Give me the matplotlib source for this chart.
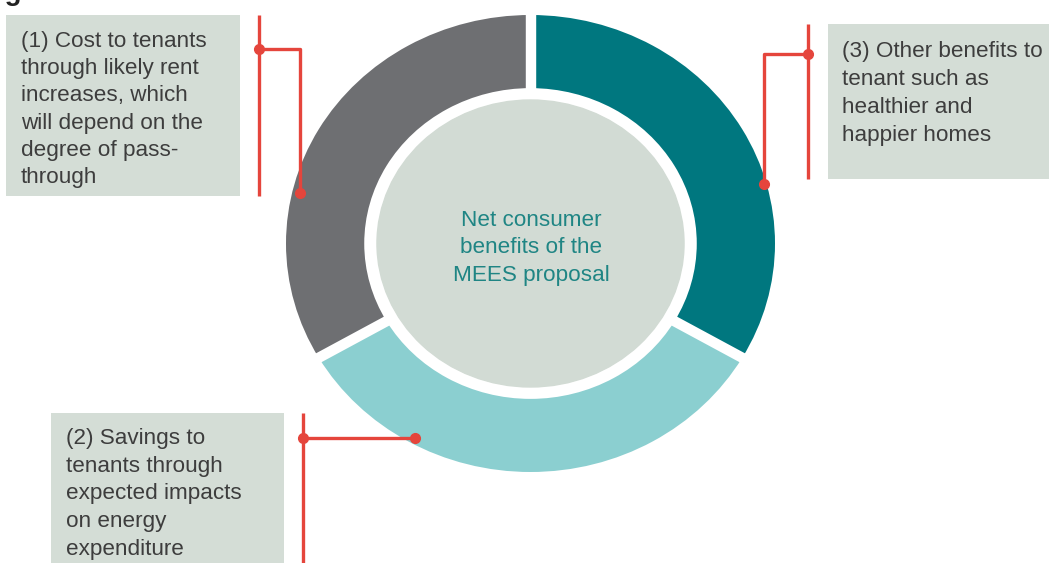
import numpy as np
import matplotlib.pyplot as plt
from matplotlib.patches import Rectangle, Circle

plt.rcParams['font.family'] = ['Liberation Sans', 'DejaVu Sans']

W, H = 1049, 563

# three equal components of the net consumer benefit
shares = [1, 1, 1]
seg_colors = ['#00777f', '#8bcfd0', '#6e6f72']
centre_lines = ['Net consumer', 'benefits of the', 'MEES proposal']

box3_lines = ['(3) Other benefits to', 'tenant such as', 'healthier and', 'happier homes']
box2_lines = ['(2) Savings to', 'tenants through', 'expected impacts', 'on energy', 'expenditure']
box1_lines = ['(1) Cost to tenants', 'through likely rent', 'increases, which',
              'will depend on the', 'degree of pass-', 'through']

# angle (deg) and radius on the ring where each callout touches it
anchor_angle = [15.2, 240.9, 166.9]
anchor_radius = [0.99, 0.975, 0.97]

red = '#e5453c'
box_fc = '#d4ddd6'
text_c = '#3d3d3d'
fs = 16.2

fig = plt.figure(figsize=(W / 100, H / 100), dpi=100)
ax = fig.add_axes([0, 0, 1, 1])
ax.set_xlim(0, W)
ax.set_ylim(H, 0)
ax.axis('off')

# donut lives in its own axes, stretched a little wider than tall
dl, dt, dr, db = 286, 15, 775, 472
dax = fig.add_axes([dl / W, (H - db) / H, (dr - dl) / W, (db - dt) / H])
dax.pie(shares, colors=seg_colors, startangle=90, counterclock=False, radius=1,
        wedgeprops=dict(width=0.32, linewidth=0))
dax.set_aspect('auto')
dax.set_xlim(-1, 1)
dax.set_ylim(-1, 1)
dax.axis('off')

# annotation layer sits on top of the donut
dax.set_zorder(1)
ax.set_zorder(2)

# white gaps between the segments
bounds = 90 - 360 * np.cumsum([0] + shares[:-1]) / sum(shares)
for a in np.radians(bounds):
    dax.plot([0.66 * np.cos(a), 1.05 * np.cos(a)], [0.66 * np.sin(a), 1.05 * np.sin(a)],
             color='white', lw=7.5, solid_capstyle='butt', zorder=3)

dax.add_patch(Circle((0, 0), 0.628, color='#d2dbd4', zorder=4))

# centre caption, one line at a time
for i, s in enumerate(centre_lines):
    ax.text(531, 226 + i * 27.3, s, ha='center', va='baseline', fontsize=fs,
            color='#1f8584', zorder=5)


def ring_point(k):
    a = np.radians(anchor_angle[k])
    r = anchor_radius[k]
    disp = dax.transData.transform((r * np.cos(a), r * np.sin(a)))
    return ax.transData.inverted().transform(disp)


def text_box(x0, y0, x1, y1, lines, tx, ty, step):
    ax.add_patch(Rectangle((x0, y0), x1 - x0, y1 - y0, facecolor=box_fc,
                           edgecolor='none', zorder=1))
    for i, s in enumerate(lines):
        ax.text(tx, ty + i * step, s, ha='left', va='baseline', fontsize=fs,
                color=text_c, zorder=2)


text_box(6, 15, 240, 196, box1_lines, 21, 46.7, 27.3)
text_box(828, 24, W + 5, 179, box3_lines, 842, 57.5, 27.8)
text_box(51, 413, 284, H + 5, box2_lines, 66, 444, 27.7)

lw, ms = 2.4, 7

# callout (3): elbow up from the ring, then right to the bar
px, py = ring_point(0)
ax.plot([808, 808], [24, 179], color=red, lw=lw, solid_capstyle='butt')
ax.plot([px, px, 808], [py, 54, 54], color=red, lw=lw)
ax.plot([px, 808], [py, 54], 'o', color=red, ms=ms, ls='none')

# callout (2): straight across to the bar
px, py = ring_point(1)
ax.plot([303, 303], [413, H + 5], color=red, lw=lw, solid_capstyle='butt')
ax.plot([px, 303], [py, py], color=red, lw=lw)
ax.plot([px, 303], [py, py], 'o', color=red, ms=ms, ls='none')

# callout (1): elbow up from the ring, then left to the bar
px, py = ring_point(2)
ax.plot([259, 259], [15, 196], color=red, lw=lw, solid_capstyle='butt')
ax.plot([px, px, 259], [py, 49, 49], color=red, lw=lw)
ax.plot([px, 259], [py, 49], 'o', color=red, ms=ms, ls='none')

# heading runs off the top edge, only its descender shows
ax.text(-20, -0.5, 'Figure', fontsize=20, fontweight='bold', color='#222222',
        ha='left', va='baseline')

fig.savefig('out.png', dpi=100)
